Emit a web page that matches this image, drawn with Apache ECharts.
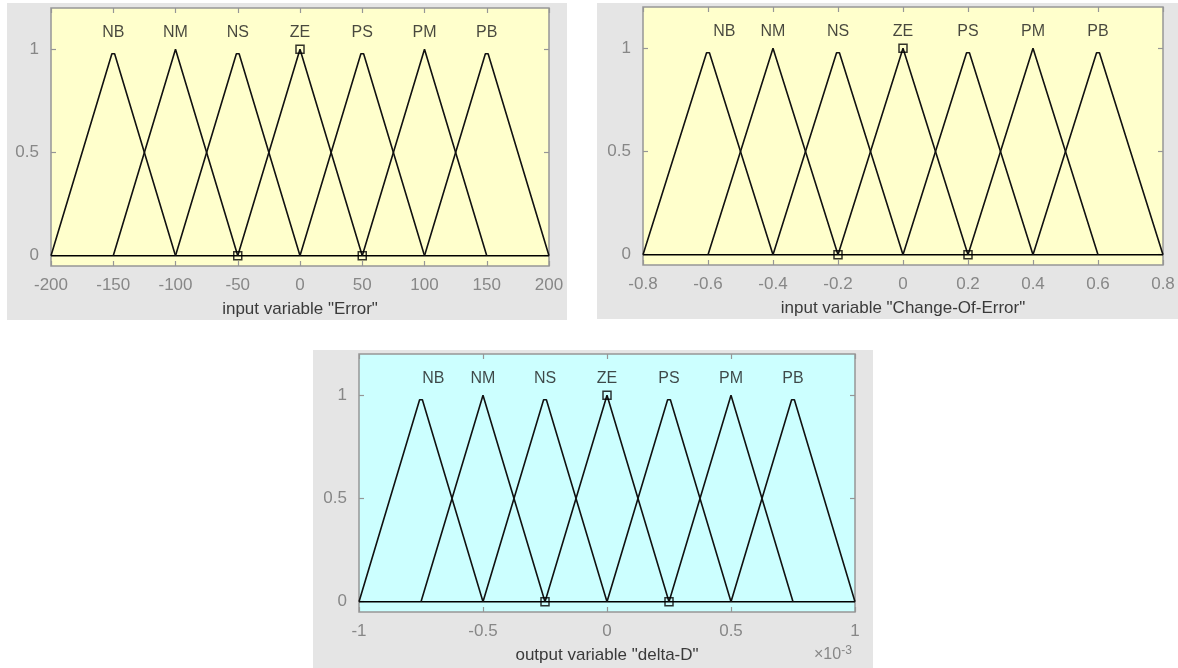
<!DOCTYPE html>
<html>
<head>
<meta charset="utf-8">
<script src="https://cdn.jsdelivr.net/npm/echarts@6/dist/echarts.min.js"></script>
<style>
html,body{margin:0;padding:0;background:#fff;}
#c{width:1178px;height:668px;}
</style>
</head>
<body>
<div id="c"></div>
<script>
// ---------- DATA ----------
const mfNames = ['NB', 'NM', 'NS', 'ZE', 'PS', 'PM', 'PB'];

// Panel 1: input variable "Error"
const errorRange = [-200, 200];
const errorMF = [
  [[-200, 0], [-151.1, 0.978], [-148.9, 0.978], [-100, 0]],
  [[-150, 0], [-100, 1], [-50, 0]],
  [[-100, 0], [-51.1, 0.978], [-48.9, 0.978], [0, 0]],
  [[-50, 0], [0, 1], [50, 0]],
  [[0, 0], [48.9, 0.978], [51.1, 0.978], [100, 0]],
  [[50, 0], [100, 1], [150, 0]],
  [[100, 0], [148.9, 0.978], [151.1, 0.978], [200, 0]]
];
const errorLabelX = [-150, -100, -50, 0, 50, 100, 150];
const errorMarkers = [[-50, 0], [0, 1], [50, 0]];

// Panel 2: input variable "Change-Of-Error"
const ceRange = [-0.8, 0.8];
const ceMF = [
  [[-0.8, 0], [-0.6044, 0.978], [-0.5956, 0.978], [-0.4, 0]],
  [[-0.6, 0], [-0.4, 1], [-0.2, 0]],
  [[-0.4, 0], [-0.2044, 0.978], [-0.1956, 0.978], [0, 0]],
  [[-0.2, 0], [0, 1], [0.2, 0]],
  [[0, 0], [0.1956, 0.978], [0.2044, 0.978], [0.4, 0]],
  [[0.2, 0], [0.4, 1], [0.6, 0]],
  [[0.4, 0], [0.5956, 0.978], [0.6044, 0.978], [0.8, 0]]
];
const ceLabelX = [-0.55, -0.4, -0.2, 0, 0.2, 0.4, 0.6];
const ceMarkers = [[-0.2, 0], [0, 1], [0.2, 0]];

// Panel 3: output variable "delta-D" (x 10^-3)
const ddRange = [-1, 1];
const ddMF = [
  [[-1, 0], [-0.7556, 0.978], [-0.7444, 0.978], [-0.5, 0]],
  [[-0.75, 0], [-0.5, 1], [-0.25, 0]],
  [[-0.5, 0], [-0.2556, 0.978], [-0.2444, 0.978], [0, 0]],
  [[-0.25, 0], [0, 1], [0.25, 0]],
  [[0, 0], [0.2444, 0.978], [0.2556, 0.978], [0.5, 0]],
  [[0.25, 0], [0.5, 1], [0.75, 0]],
  [[0.5, 0], [0.7444, 0.978], [0.7556, 0.978], [1, 0]]
];
const ddLabelX = [-0.7, -0.5, -0.25, 0, 0.25, 0.5, 0.75];
const ddMarkers = [[-0.25, 0], [0, 1], [0.25, 0]];

const yTicks = [0, 0.5, 1];
const labelY = 1.08;

const panels = [
  { title: 'input variable "Error"', range: errorRange, interval: 50, mf: errorMF, labelX: errorLabelX, markers: errorMarkers,
    grid: { left: 51, top: 8, width: 498, height: 258 }, bg: '#ffffcc' },
  { title: 'input variable "Change-Of-Error"', range: ceRange, interval: 0.2, mf: ceMF, labelX: ceLabelX, markers: ceMarkers,
    grid: { left: 643, top: 7, width: 520, height: 258 }, bg: '#ffffcc' },
  { title: 'output variable "delta-D"', range: ddRange, interval: 0.5, mf: ddMF, labelX: ddLabelX, markers: ddMarkers,
    grid: { left: 359, top: 354, width: 496, height: 258 }, bg: '#ccffff' }
];

// ---------- BUILD ----------
const FONT = '"Liberation Sans", Arial, sans-serif';
const tickGray = '#878787';
const boxGray = '#969696';
const tickStyle = { color: boxGray, width: 1.2 };

const grid = [], xAxis = [], yAxis = [], series = [];
panels.forEach((p, i) => {
  grid.push(Object.assign({ show: true, backgroundColor: p.bg, borderColor: boxGray, borderWidth: 1.5, containLabel: false }, p.grid));
  // bottom x
  xAxis.push({
    type: 'value', gridIndex: i, position: 'bottom', min: p.range[0], max: p.range[1], interval: p.interval,
    axisLine: { show: false, onZero: false }, splitLine: { show: false },
    axisTick: { show: true, inside: true, length: 5, lineStyle: tickStyle },
    axisLabel: { color: tickGray, fontSize: 17, fontFamily: FONT, margin: 11, showMinLabel: true, showMaxLabel: true },
    name: p.title, nameLocation: 'middle', nameGap: 35,
    nameTextStyle: { color: '#3a3a3a', fontSize: 17, fontFamily: FONT }
  });
  // top x (ticks only)
  xAxis.push({
    type: 'value', gridIndex: i, position: 'top', min: p.range[0], max: p.range[1], interval: p.interval,
    axisLine: { show: false, onZero: false }, splitLine: { show: false }, axisLabel: { show: false },
    axisTick: { show: true, inside: true, length: 5, lineStyle: tickStyle }
  });
  // left y
  yAxis.push({
    type: 'value', gridIndex: i, position: 'left', min: -0.05, max: 1.2,
    axisLine: { show: false, onZero: false }, splitLine: { show: false },
    axisTick: { show: true, inside: true, length: 5, customValues: yTicks, lineStyle: tickStyle },
    axisLabel: { color: tickGray, fontSize: 17, fontFamily: FONT, margin: 12, customValues: yTicks }
  });
  // right y (ticks only)
  yAxis.push({
    type: 'value', gridIndex: i, position: 'right', min: -0.05, max: 1.2,
    axisLine: { show: false, onZero: false }, splitLine: { show: false }, axisLabel: { show: false },
    axisTick: { show: true, inside: true, length: 5, customValues: yTicks, lineStyle: tickStyle }
  });
  const xi = i * 2, yi = i * 2;
  // baseline (zero part of all membership functions)
  series.push({
    type: 'line', xAxisIndex: xi, yAxisIndex: yi, data: [[p.range[0], 0], [p.range[1], 0]],
    symbol: 'none', silent: true, lineStyle: { color: '#000', width: 1.6 }, z: 3
  });
  p.mf.forEach((pts, k) => {
    series.push({
      type: 'line', name: mfNames[k], xAxisIndex: xi, yAxisIndex: yi, data: pts,
      symbol: 'none', silent: true, lineStyle: { color: '#111', width: 1.6 }, z: 3
    });
  });
  // MF names
  series.push({
    type: 'scatter', xAxisIndex: xi, yAxisIndex: yi, silent: true, symbolSize: 0,
    data: p.labelX.map((x, k) => ({ value: [x, labelY], name: mfNames[k] })),
    label: { show: true, position: 'inside', formatter: '{b}', color: '#1a1a1a', fontSize: 16, fontFamily: FONT }
  });
  // selected MF vertex markers
  series.push({
    type: 'scatter', xAxisIndex: xi, yAxisIndex: yi, silent: true, symbol: 'rect', symbolSize: 8,
    data: p.markers, z: 5,
    itemStyle: { color: 'rgba(0,0,0,0)', borderColor: '#000', borderWidth: 1.5 }
  });
});

const chart = echarts.init(document.getElementById('c'), null, { renderer: 'canvas' });
chart.setOption({
  backgroundColor: '#ffffff',
  animation: false,
  graphic: [
    { type: 'rect', z: -100, shape: { x: 7, y: 3, width: 560, height: 317 }, style: { fill: '#e5e5e5' } },
    { type: 'rect', z: -100, shape: { x: 597, y: 3, width: 581, height: 316 }, style: { fill: '#e5e5e5' } },
    { type: 'rect', z: -100, shape: { x: 313, y: 350, width: 560, height: 318 }, style: { fill: '#e5e5e5' } },
    { type: 'text', z: 10, left: 814, top: 645,
      style: { text: '×10{s|-3}', fill: tickGray, font: '16px "Liberation Sans", Arial, sans-serif',
        rich: { s: { fontSize: 12, fill: tickGray, verticalAlign: 'top', padding: [0, 0, 8, 0] } } } }
  ],
  grid: grid, xAxis: xAxis, yAxis: yAxis, series: series
});
</script>
</body>
</html>
